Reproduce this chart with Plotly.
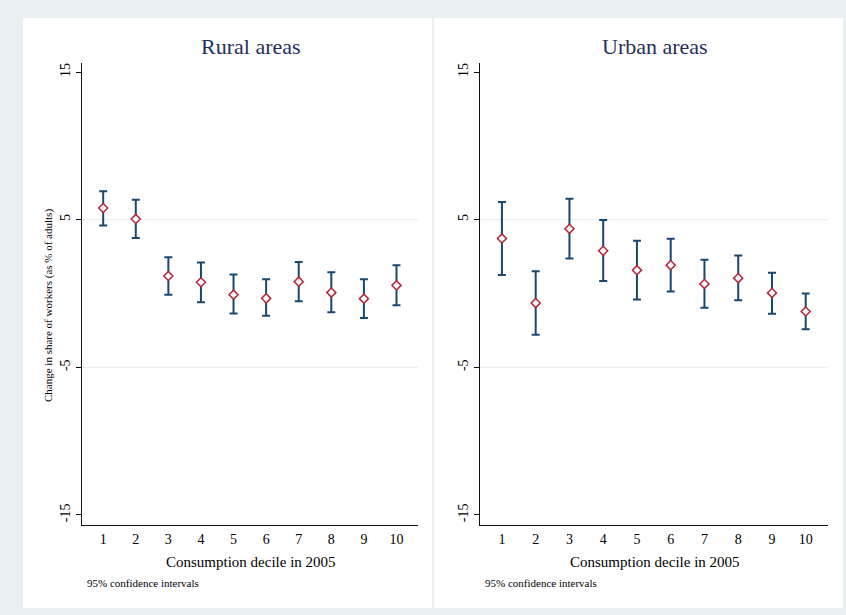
import plotly.graph_objects as go

# Consumption deciles (x) and estimated changes with 95% CI bounds (y)
deciles = [1, 2, 3, 4, 5, 6, 7, 8, 9, 10]

rural_est = [5.79, 5.05, 1.19, 0.76, -0.08, -0.33, 0.80, 0.06, -0.35, 0.55]
rural_hi = [6.92, 6.35, 2.45, 2.09, 1.28, 0.96, 2.13, 1.43, 0.96, 1.91]
rural_lo = [4.61, 3.76, -0.08, -0.60, -1.36, -1.50, -0.53, -1.27, -1.66, -0.80]

urban_est = [3.73, -0.65, 4.38, 2.89, 1.58, 1.92, 0.65, 1.04, 0.04, -1.22]
urban_hi = [6.20, 1.51, 6.41, 4.97, 3.57, 3.70, 2.28, 2.58, 1.40, 0.00]
urban_lo = [1.26, -2.80, 2.37, 0.84, -0.40, 0.14, -0.97, -0.45, -1.38, -2.43]

y_ticks = [-15, -5, 5, 15]
y_tick_text = ["-15", "-5", "5", "15"]
grid_values = [-5, 5]

panel_titles = ["Rural areas", "Urban areas"]
x_title = "Consumption decile in 2005"
y_title = "Change in share of workers (as % of adults)"
note = "95% confidence intervals"

W, H = 846, 615
FONT = "Liberation Serif"
BAR = "#1a476f"
MARK = "#b0283a"
BG = "#e8f0f2"
TITLE_C = "#1f2f5c"


def px_x(p):
    return p / W


def px_y(p):
    return 1 - p / H


fig = go.Figure()

panels = [
    dict(est=rural_est, hi=rural_hi, lo=rural_lo, xa="x", ya="y",
         box=(23, 432), axis=(82, 418)),
    dict(est=urban_est, hi=urban_hi, lo=urban_lo, xa="x2", ya="y2",
         box=(434, 843), axis=(480, 828)),
]

shapes = []
annotations = []
for i, p in enumerate(panels):
    plus = [h - e for h, e in zip(p["hi"], p["est"])]
    minus = [e - l for e, l in zip(p["est"], p["lo"])]
    fig.add_trace(go.Scatter(
        x=deciles, y=p["est"], mode="markers", xaxis=p["xa"], yaxis=p["ya"],
        marker=dict(symbol="diamond", size=7, color="#f4f8fb",
                    line=dict(color=MARK, width=1.5)),
        error_y=dict(type="data", symmetric=False, array=plus, arrayminus=minus,
                     color=BAR, thickness=2, width=4),
        showlegend=False, hoverinfo="x+y",
    ))

    # white panel background
    shapes.append(dict(type="rect", xref="paper", yref="paper",
                       x0=px_x(p["box"][0]), x1=px_x(p["box"][1]),
                       y0=px_y(608), y1=px_y(18),
                       fillcolor="white", line=dict(width=0), layer="below"))
    # horizontal grid lines at interior ticks
    for g in grid_values:
        shapes.append(dict(type="line", xref=f"{p['xa']} domain", yref=p["ya"],
                           x0=0, x1=1, y0=g, y1=g,
                           line=dict(color="#e3ecee", width=1), layer="below"))

    cx = (p["axis"][0] + p["axis"][1]) / 2
    annotations.append(dict(text=panel_titles[i], xref="paper", yref="paper",
                            x=px_x(cx + 1), y=px_y(47), showarrow=False,
                            font=dict(family=FONT, size=22, color=TITLE_C),
                            xanchor="center", yanchor="middle"))
    annotations.append(dict(text=x_title, xref="paper", yref="paper",
                            x=px_x(cx + 1), y=px_y(562), showarrow=False,
                            font=dict(family=FONT, size=15, color="black"),
                            xanchor="center", yanchor="middle"))
    annotations.append(dict(text=note, xref="paper", yref="paper",
                            x=px_x(p["axis"][0] + 3), y=px_y(583), showarrow=False,
                            font=dict(family=FONT, size=11, color="black"),
                            xanchor="left", yanchor="middle"))

annotations.append(dict(text=y_title, xref="paper", yref="paper",
                        x=px_x(48), y=px_y(306), showarrow=False, textangle=-90,
                        font=dict(family=FONT, size=11, color="black"),
                        xanchor="center", yanchor="middle"))

ydom = [px_y(525), px_y(63)]
yrange = [-15.68, 15.61]
xrange = [0.35, 10.66]

common_x = dict(range=xrange, tickvals=deciles, ticks="", showgrid=False,
                zeroline=False, showline=True, linecolor="#111111", linewidth=1.3,
                tickfont=dict(family=FONT, size=14, color="black"),
                ticklabelstandoff=1, fixedrange=True)
common_y = dict(range=yrange, tickvals=y_ticks, ticktext=y_tick_text,
                ticks="outside", ticklen=5,
                tickcolor="#111111", tickwidth=1, showgrid=False, zeroline=False,
                showline=True, linecolor="#111111", linewidth=1.3, tickangle=-90,
                tickfont=dict(family=FONT, size=14, color="black"), fixedrange=True)

fig.update_layout(
    width=W, height=H,
    margin=dict(l=0, r=0, t=0, b=0),
    paper_bgcolor=BG,
    plot_bgcolor="rgba(0,0,0,0)",
    xaxis=dict(domain=[px_x(82), px_x(418)], anchor="y", **common_x),
    yaxis=dict(domain=ydom, anchor="x", **common_y),
    xaxis2=dict(domain=[px_x(480), px_x(828)], anchor="y2", **common_x),
    yaxis2=dict(domain=ydom, anchor="x2", **common_y),
    shapes=shapes,
    annotations=annotations,
)

fig.write_html("out.html")
